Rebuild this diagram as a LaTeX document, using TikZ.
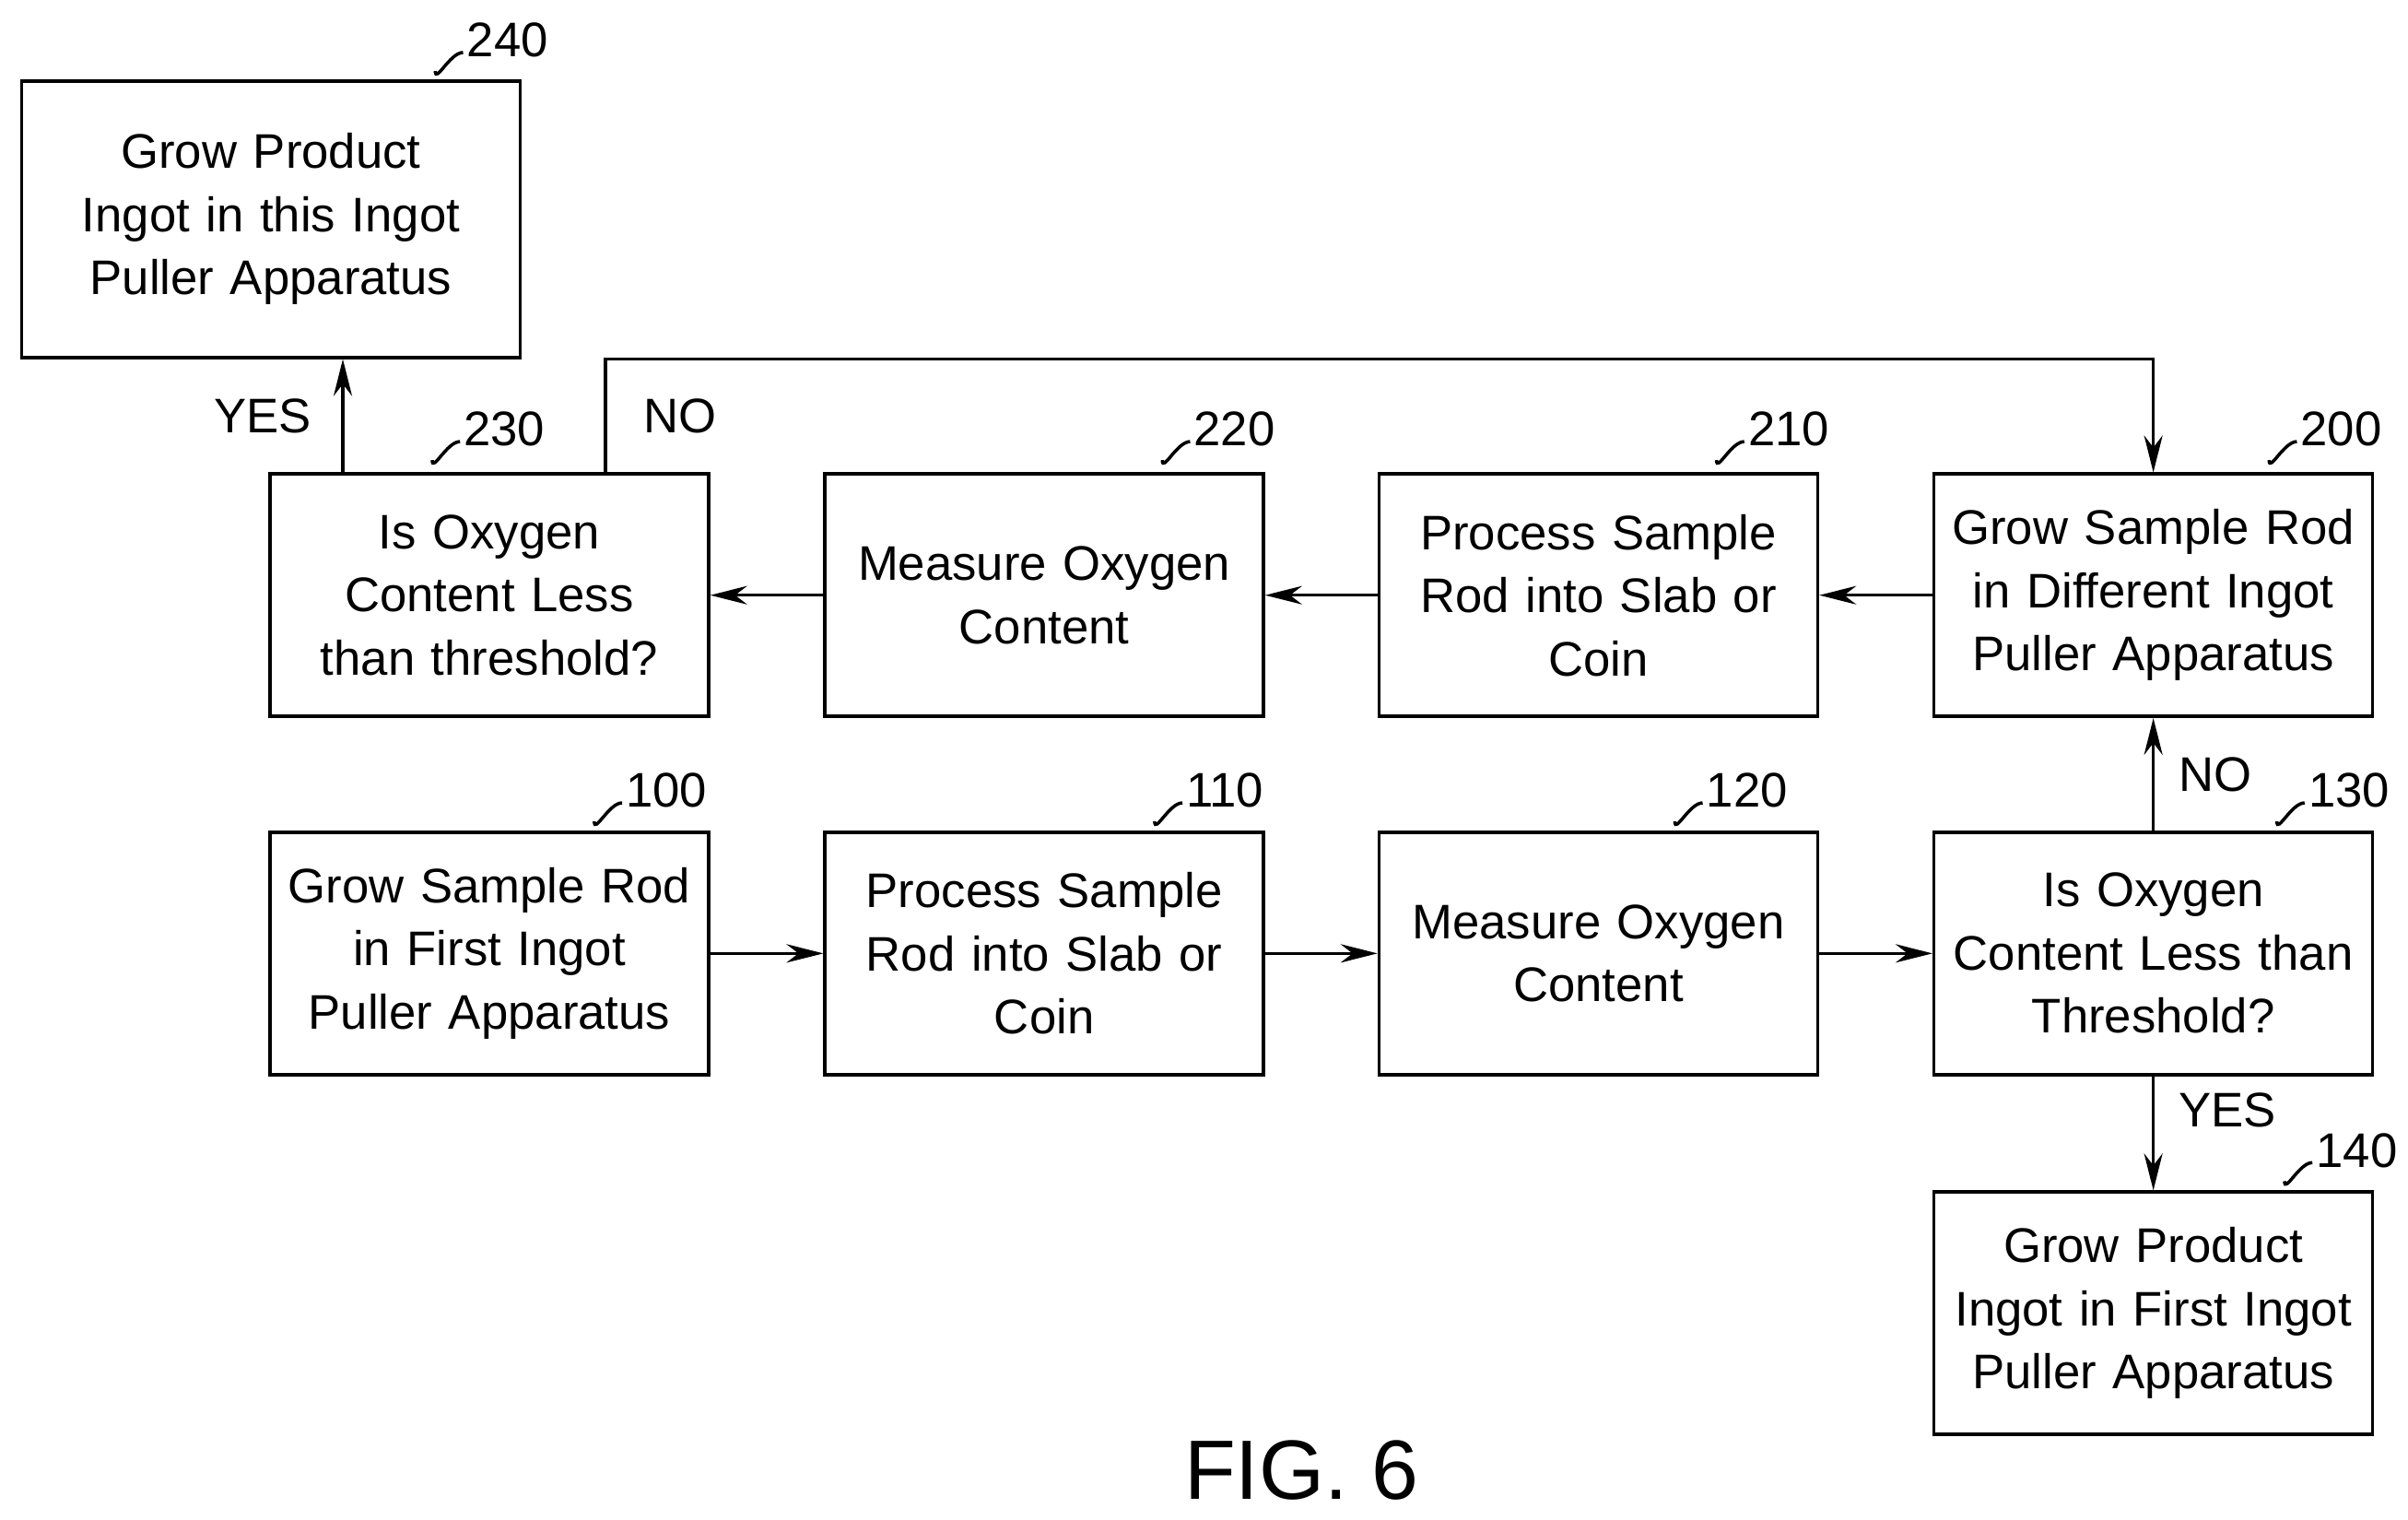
\documentclass[tikz,border=0pt]{standalone}
\usepackage{fontspec}
\setmainfont{Liberation Sans}
\usetikzlibrary{arrows.meta,positioning}
\begin{document}
\begin{tikzpicture}[
    x=0.01675cm, y=-0.01675cm,
    box/.style={rectangle, draw=black, line width=1pt, text width=4.7cm, align=center, font=\fontsize{15}{19.5}\selectfont, inner sep=0pt, minimum width=4.76cm, minimum height=2.63cm},
    arrow/.style={line width=1pt, -{Stealth[length=0.4cm, width=0.2cm]}},
    tag/.style={font=\fontsize{15}{17}\selectfont, anchor=west, inner sep=1pt},
    hook/.style={line width=1pt}
]
\useasboundingbox (0,0) rectangle (1560,984);

% Nodes
\node (n240) [box, minimum width=5.41cm, minimum height=3cm] at (175.5,142) {Grow Product\\Ingot in this Ingot\\Puller Apparatus};
\node (n230) [box] at (317,385.5) {Is Oxygen\\Content Less\\than threshold?};
\node (n220) [box] at (676.5,385.5) {Measure Oxygen\\Content};
\node (n210) [box] at (1035.5,385.5) {Process Sample\\Rod into Slab or\\Coin};
\node (n200) [box] at (1395,385.5) {Grow Sample Rod\\in Different Ingot\\Puller Apparatus};
\node (n100) [box] at (317,617.5) {Grow Sample Rod\\in First Ingot\\Puller Apparatus};
\node (n110) [box] at (676.5,617.5) {Process Sample\\Rod into Slab or\\Coin};
\node (n120) [box] at (1035.5,617.5) {Measure Oxygen\\Content};
\node (n130) [box] at (1395,617.5) {Is Oxygen\\Content Less than\\Threshold?};
\node (n140) [box] at (1395,850.5) {Grow Product\\Ingot in First Ingot\\Puller Apparatus};
\node (fig) at (843,952) {\fontsize{26}{28}\selectfont FIG. 6};

% Reference numerals
\foreach \x/\y/\t in {282/46/240, 280/298/230, 753/298/220, 1112/298/210, 1470/298/200,
                      385/532/100, 748/532/110, 1085/532/120, 1475/532/130, 1480/765/140} {
  \draw [hook] (\x,\y) to[out=-90,in=180] ++(18,-12);
  \node [tag] at (\x+18,\y-20) {\t};
}

% Arrows
\coordinate (noturn) at ([xshift=1.26cm]n230.north);
\draw [arrow] ([xshift=-1.59cm]n230.north) -- node[left=6pt, font=\fontsize{15}{17}\selectfont] {YES} ([xshift=-1.59cm]n230.north |- n240.south);
\draw [arrow] (noturn) |- node[pos=0.25, right=8pt, font=\fontsize{15}{17}\selectfont] {NO} (n240.south -| n200.north) -- (n200.north);
\draw [arrow] (n200) -- (n210);
\draw [arrow] (n210) -- (n220);
\draw [arrow] (n220) -- (n230);
\draw [arrow] (n100) -- (n110);
\draw [arrow] (n110) -- (n120);
\draw [arrow] (n120) -- (n130);
\draw [arrow] (n130) -- node[right=4pt, font=\fontsize{15}{17}\selectfont] {NO} (n200);
\draw [arrow] (n130) -- node[pos=0.3, right=4pt, font=\fontsize{15}{17}\selectfont] {YES} (n140);
\end{tikzpicture}
\end{document}
